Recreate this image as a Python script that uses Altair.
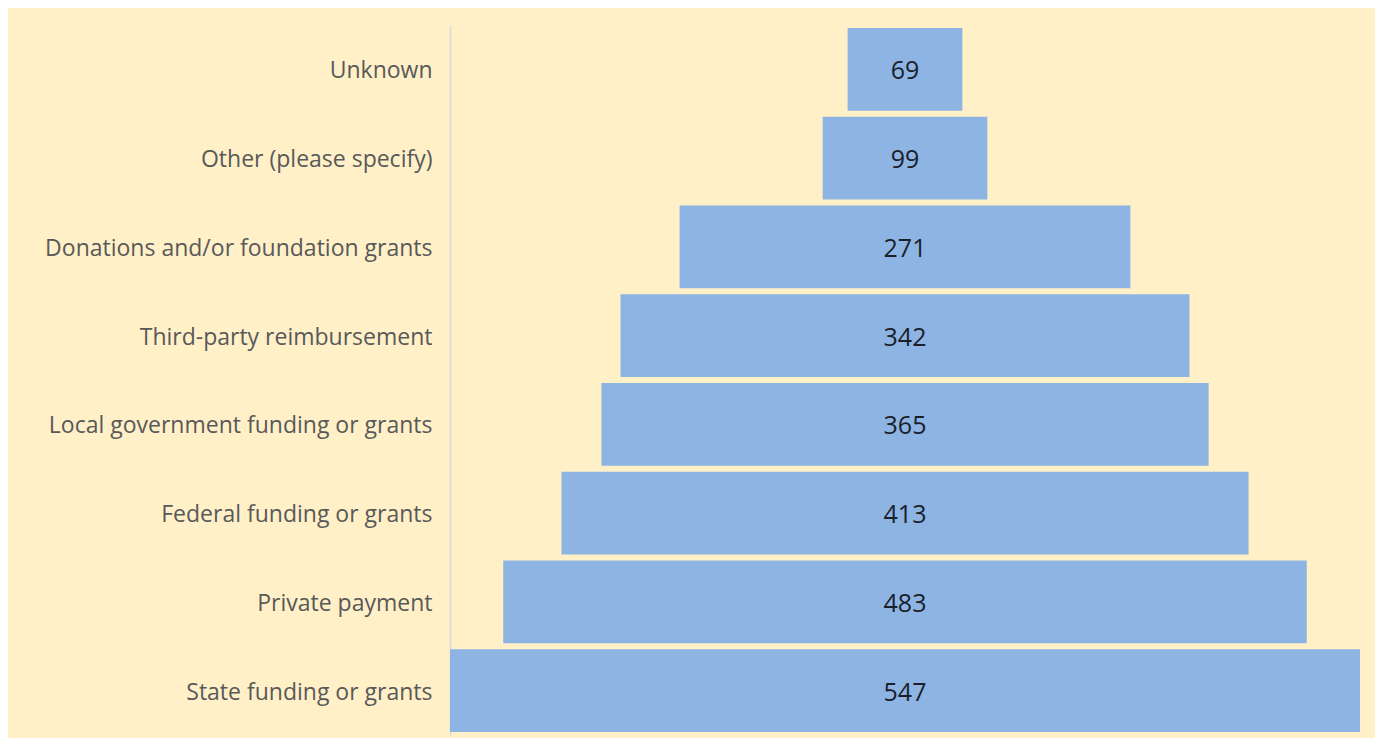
import altair as alt
import pandas as pd

categories = ["Unknown", "Other (please specify)", "Donations and/or foundation grants",
              "Third-party reimbursement", "Local government funding or grants",
              "Federal funding or grants", "Private payment", "State funding or grants"]
values = [69, 99, 271, 342, 365, 413, 483, 547]

df = pd.DataFrame({"cat": categories, "val": values})
df["lo"] = -df["val"] / 2
df["hi"] = df["val"] / 2
df["mid"] = 0

xs = alt.Scale(domain=[-273.5, 273.5], nice=False, zero=False)
ys = alt.Scale(domain=categories, paddingInner=0.07, paddingOuter=0.035)

base = alt.Chart(df)
bars = base.mark_bar(color="#8EB4E3").encode(
    y=alt.Y("cat:N", sort=categories, scale=ys,
            axis=alt.Axis(title=None, ticks=False, labelFontSize=23, labelFont="Open Sans",
                          labelColor="#595959", labelPadding=18, domainColor="#D9D9E3",
                          domainWidth=1.5, labelLimit=500, labelOffset=2)),
    x=alt.X("lo:Q", scale=xs, axis=None),
    x2="hi:Q",
)
text = base.mark_text(fontSize=25, font="Open Sans", color="#1a1f2a", dy=2).encode(
    y=alt.Y("cat:N", sort=categories, scale=ys),
    x=alt.X("mid:Q", scale=xs),
    text="val:Q",
)

chart = (bars + text).properties(
    width=910, height=710,
    autosize=alt.AutoSizeParams(type="none"),
    padding={"left": 442, "top": 17, "right": 15, "bottom": 3},
    background="#FFF0C8",
).configure_view(stroke=None)

chart.save("out.html", embed_options={"renderer": "svg", "actions": False})
